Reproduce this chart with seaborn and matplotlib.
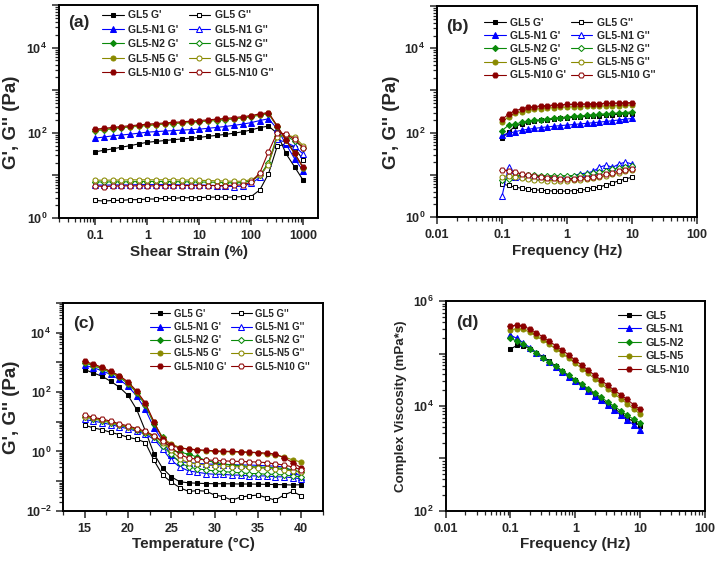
import numpy as np
import pandas as pd
import matplotlib
matplotlib.use('Agg')
import matplotlib.pyplot as plt
import seaborn as sns
from matplotlib.ticker import LogLocator, FuncFormatter, NullFormatter, MultipleLocator

sns.set_style('ticks')
plt.rcParams['font.family'] = ['Liberation Sans', 'DejaVu Sans']
plt.rcParams['font.weight'] = 'bold'
plt.rcParams['axes.labelweight'] = 'bold'
plt.rcParams['mathtext.fontset'] = 'custom'
plt.rcParams['mathtext.rm'] = 'Liberation Sans:bold'
plt.rcParams['mathtext.bf'] = 'Liberation Sans:bold'
plt.rcParams['mathtext.it'] = 'Liberation Sans:bold'

# ---------------- data ----------------
samples = ['GL5', 'GL5-N1', 'GL5-N2', 'GL5-N5', 'GL5-N10']

strain = [0.1, 0.147, 0.215, 0.316, 0.464, 0.681, 1, 1.47, 2.15, 3.16, 4.64, 6.81, 10,
          14.7, 21.5, 31.6, 46.4, 68.1, 100, 147, 215, 316, 464, 681, 1000]
freq = [0.1, 0.126, 0.158, 0.2, 0.251, 0.316, 0.398, 0.501, 0.631, 0.794, 1,
        1.26, 1.58, 2, 2.51, 3.16, 3.98, 5.01, 6.31, 7.94, 10]
temp = [15, 16, 17, 18, 19, 20, 21, 22, 23, 24, 25, 26, 27, 28, 29, 30, 31, 32, 33,
        34, 35, 36, 37, 38, 39, 40]

# (a) strain sweep
a_gp_GL5 = [36, 39, 42, 46, 50, 55, 60, 63, 66, 69, 72, 75, 78, 83, 87, 92, 98, 106, 117, 133, 144, 98, 33, 16, 7.7]
a_gpp_GL5 = [2.6, 2.5, 2.6, 2.6, 2.7, 2.7, 2.8, 2.8, 2.9, 2.9, 3.0, 3.0, 3.0, 3.1, 3.1, 3.1, 3.1, 3.2, 3.2, 4.6, 11, 48, 55, 45, 23]
a_gp_N1 = [75, 80, 85, 89, 93, 98, 104, 107, 110, 113, 116, 119, 122, 128, 134, 141, 150, 160, 174, 195, 214, 125, 55, 25, 12.8]
a_gpp_N1 = [6.0, 5.9, 6.0, 6.0, 6.0, 6.1, 6.1, 6.1, 6.1, 6.1, 6.0, 6.0, 6.0, 5.9, 5.8, 5.6, 5.5, 5.6, 6.5, 9, 20, 70, 60, 48, 32]
a_gp_N2 = [113, 118, 125, 131, 137, 143, 149, 154, 160, 165, 170, 176, 182, 188, 195, 203, 212, 223, 238, 262, 282, 140, 68, 33, 15]
a_gpp_N2 = [7.1, 7.0, 7.1, 7.1, 7.1, 7.2, 7.2, 7.2, 7.2, 7.2, 7.1, 7.1, 7.0, 7.0, 6.9, 6.8, 6.7, 6.8, 7.5, 10, 20, 85, 85, 65, 45]
a_gp_N5 = [116, 121, 128, 134, 140, 146, 152, 157, 163, 168, 174, 180, 186, 193, 200, 208, 217, 229, 245, 268, 290, 142, 68, 33, 15]
a_gpp_N5 = [7.8, 7.7, 7.8, 7.8, 7.9, 7.9, 7.9, 7.9, 7.9, 7.9, 7.8, 7.8, 7.7, 7.6, 7.5, 7.4, 7.3, 7.3, 8.0, 10, 18, 80, 90, 80, 50]
a_gp_N10 = [122, 128, 134, 141, 147, 153, 160, 165, 171, 176, 182, 188, 195, 202, 210, 218, 228, 240, 255, 280, 300, 146, 69, 33, 15.6]
a_gpp_N10 = [5.7, 5.5, 5.6, 5.7, 5.7, 5.7, 5.7, 5.7, 5.8, 5.8, 5.8, 5.8, 5.8, 5.8, 5.8, 5.8, 5.9, 6.0, 7.0, 11.7, 36, 100, 95, 70, 45]

# (b) frequency sweep
b_gp_GL5 = [73, 105, 140, 160, 175, 186, 195, 203, 210, 217, 224, 230, 236, 242, 248, 254, 260, 266, 272, 278, 283]
b_gpp_GL5 = [6.0, 5.6, 5.1, 4.8, 4.6, 4.4, 4.3, 4.2, 4.1, 4.1, 4.1, 4.2, 4.3, 4.5, 4.8, 5.2, 5.7, 6.4, 7.2, 8.0, 8.7]
b_gp_N1 = [87, 96, 105, 114, 120, 126, 132, 137, 142, 147, 151, 156, 161, 166, 172, 178, 184, 192, 200, 208, 217]
b_gpp_N1 = [3.1, 15.5, 9, 9.5, 9.2, 9.0, 8.8, 8.8, 8.8, 8.8, 9.0, 9.5, 10.5, 11, 12, 15, 17, 15, 18, 20, 18]
b_gp_N2 = [112, 150, 160, 174, 185, 195, 204, 212, 220, 228, 236, 243, 250, 257, 264, 271, 278, 285, 292, 300, 310]
b_gpp_N2 = [7.5, 8.0, 9.5, 10, 10, 9.8, 9.6, 9.5, 9.5, 9.5, 9.5, 9.6, 9.8, 10.2, 10.8, 11.5, 12.5, 13.5, 14.5, 15.5, 16]
b_gp_N5 = [180, 235, 285, 315, 340, 360, 373, 383, 392, 399, 405, 410, 414, 418, 422, 426, 430, 434, 438, 443, 448]
b_gpp_N5 = [9.0, 9.5, 8.8, 8.3, 7.9, 7.6, 7.4, 7.3, 7.3, 7.3, 7.3, 7.4, 7.6, 7.9, 8.3, 8.8, 9.5, 10.3, 11.2, 12.2, 13]
b_gp_N10 = [205, 274, 330, 365, 395, 415, 430, 440, 450, 458, 465, 470, 475, 480, 485, 490, 495, 500, 505, 510, 517]
b_gpp_N10 = [13, 12.5, 11.5, 10.5, 9.8, 9.2, 8.8, 8.5, 8.2, 8.0, 8.0, 8.1, 8.3, 8.6, 9.0, 9.6, 10.3, 11.2, 12.2, 13.2, 14]

# (c) temperature sweep
c_gp_GL5 = [570, 440, 340, 230, 146, 78, 26, 5.0, 0.83, 0.27, 0.14, 0.095, 0.088, 0.085, 0.083, 0.082, 0.082, 0.081, 0.08, 0.08, 0.079, 0.078, 0.077, 0.076, 0.074, 0.076]
c_gpp_GL5 = [7.7, 6.2, 5.4, 4.4, 3.7, 3.0, 2.6, 2.0, 0.5, 0.16, 0.093, 0.06, 0.045, 0.048, 0.046, 0.034, 0.03, 0.023, 0.029, 0.032, 0.034, 0.028, 0.023, 0.034, 0.045, 0.032]
c_gp_N1 = [800, 660, 520, 390, 265, 158, 74, 26, 6.2, 2.3, 0.74, 0.45, 0.42, 0.40, 0.38, 0.37, 0.36, 0.36, 0.35, 0.35, 0.34, 0.33, 0.32, 0.30, 0.22, 0.14]
c_gpp_N1 = [12, 10.5, 9.3, 8, 6.8, 5.8, 4.8, 3.8, 2.6, 1.2, 0.5, 0.3, 0.22, 0.2, 0.18, 0.17, 0.17, 0.16, 0.16, 0.15, 0.15, 0.15, 0.14, 0.14, 0.13, 0.12]
c_gp_N2 = [950, 780, 600, 450, 320, 190, 95, 36, 8.5, 3.0, 1.07, 0.96, 0.8, 0.65, 0.5, 0.43, 0.38, 0.35, 0.33, 0.31, 0.3, 0.29, 0.28, 0.27, 0.24, 0.2]
c_gpp_N2 = [14.5, 12.5, 10.8, 9.2, 7.6, 6.4, 5.2, 4.2, 3.0, 1.5, 0.8, 0.42, 0.3, 0.26, 0.24, 0.22, 0.21, 0.2, 0.19, 0.18, 0.18, 0.17, 0.17, 0.16, 0.15, 0.14]
c_gp_N5 = [1000, 830, 640, 470, 340, 205, 100, 40, 9.5, 2.8, 1.8, 1.35, 1.2, 1.1, 1.05, 1.0, 0.98, 0.96, 0.94, 0.92, 0.9, 0.8, 0.74, 0.66, 0.52, 0.44]
c_gpp_N5 = [15, 13, 11.3, 9.6, 8, 6.8, 5.5, 4.5, 3.2, 2.0, 1.1, 0.55, 0.42, 0.38, 0.35, 0.33, 0.32, 0.31, 0.3, 0.29, 0.28, 0.27, 0.26, 0.24, 0.22, 0.2]
c_gp_N10 = [1070, 880, 680, 500, 360, 220, 108, 43, 10, 2.6, 1.6, 1.3, 1.2, 1.15, 1.1, 1.05, 1.02, 1.0, 0.98, 0.95, 0.92, 0.88, 0.82, 0.62, 0.42, 0.28]
c_gpp_N10 = [17, 14, 12.3, 10.5, 8.5, 7.3, 5.9, 4.8, 3.4, 2.2, 1.4, 0.78, 0.6, 0.55, 0.52, 0.5, 0.48, 0.47, 0.46, 0.45, 0.44, 0.42, 0.38, 0.35, 0.3, 0.24]

# (d) complex viscosity (mPa*s)
d_eta_GL5 = [1.22e5, 1.44e5, 1.4e5, 1.25e5, 1.05e5, 8.7e4, 7.1e4, 5.8e4, 4.7e4, 3.8e4, 3.1e4, 2.5e4, 2.05e4, 1.67e4, 1.36e4, 1.1e4, 9.0e3, 7.3e3, 6.0e3, 5.0e3, 4.2e3]
d_eta_N1 = [2.25e5, 1.95e5, 1.6e5, 1.3e5, 1.05e5, 8.5e4, 6.9e4, 5.6e4, 4.5e4, 3.65e4, 2.95e4, 2.4e4, 1.95e4, 1.58e4, 1.28e4, 1.04e4, 8.4e3, 6.8e3, 5.5e3, 4.4e3, 3.5e3]
d_eta_N2 = [1.96e5, 1.73e5, 1.5e5, 1.24e5, 1.02e5, 8.4e4, 6.9e4, 5.7e4, 4.7e4, 3.85e4, 3.2e4, 2.62e4, 2.15e4, 1.78e4, 1.46e4, 1.2e4, 9.9e3, 8.1e3, 6.7e3, 5.6e3, 4.8e3]
d_eta_N5 = [2.85e5, 3.0e5, 2.9e5, 2.55e5, 2.15e5, 1.8e5, 1.5e5, 1.22e5, 1.0e5, 8.1e4, 6.5e4, 5.2e4, 4.2e4, 3.3e4, 2.65e4, 2.1e4, 1.7e4, 1.38e4, 1.1e4, 8.8e3, 7.0e3]
d_eta_N10 = [3.34e5, 3.54e5, 3.34e5, 2.93e5, 2.5e5, 2.09e5, 1.73e5, 1.41e5, 1.17e5, 9.4e4, 7.5e4, 6.0e4, 4.85e4, 3.84e4, 3.13e4, 2.48e4, 2.02e4, 1.64e4, 1.34e4, 1.06e4, 8.6e3]

colors = ['#000000', '#0000ff', '#0a8a0a', '#8a8a00', '#8b0000']
markers = ['s', '^', 'D', 'o', 'H']
msizes = [3.4, 3.9, 3.1, 3.6, 4.1]

a_gp = [a_gp_GL5, a_gp_N1, a_gp_N2, a_gp_N5, a_gp_N10]
a_gpp = [a_gpp_GL5, a_gpp_N1, a_gpp_N2, a_gpp_N5, a_gpp_N10]
b_gp = [b_gp_GL5, b_gp_N1, b_gp_N2, b_gp_N5, b_gp_N10]
b_gpp = [b_gpp_GL5, b_gpp_N1, b_gpp_N2, b_gpp_N5, b_gpp_N10]
c_gp = [c_gp_GL5, c_gp_N1, c_gp_N2, c_gp_N5, c_gp_N10]
c_gpp = [c_gpp_GL5, c_gpp_N1, c_gpp_N2, c_gpp_N5, c_gpp_N10]
d_eta = [d_eta_GL5, d_eta_N1, d_eta_N2, d_eta_N5, d_eta_N10]

# ---------------- figure ----------------
fig = plt.figure(figsize=(7.2, 5.62), dpi=100)
axA = fig.add_axes([0.082, 0.612, 0.360, 0.379])
axB = fig.add_axes([0.607, 0.614, 0.361, 0.375])
axC = fig.add_axes([0.0875, 0.091, 0.361, 0.370])
axD = fig.add_axes([0.619, 0.091, 0.360, 0.373])

TICK_FS = 9
XLABEL_FS = 11
YLABEL_FS = 13.5


def pow_fmt(step):
    def f(v, pos):
        if v <= 0:
            return ''
        e = int(round(np.log10(v)))
        if e % step != 0:
            return ''
        return r'$\mathbf{10^{%d}}$' % e
    return FuncFormatter(f)


def plain_fmt(v, pos):
    return '%g' % v


def style_axis(ax, xlog=True):
    for s in ax.spines.values():
        s.set_linewidth(1.4)
        s.set_color('black')
    ax.tick_params(which='major', direction='out', length=5, width=1.1,
                   labelsize=TICK_FS, top=False, right=False)
    ax.tick_params(which='minor', direction='out', length=3, width=0.9,
                   top=False, right=False)
    ax.set_yscale('log')
    ax.yaxis.set_major_locator(LogLocator(base=10, numticks=20))
    ax.yaxis.set_minor_locator(LogLocator(base=10, subs=np.arange(2, 10), numticks=20))
    ax.yaxis.set_minor_formatter(NullFormatter())
    if xlog:
        ax.set_xscale('log')
        ax.xaxis.set_major_locator(LogLocator(base=10, numticks=20))
        ax.xaxis.set_minor_locator(LogLocator(base=10, subs=np.arange(2, 10), numticks=20))
        ax.xaxis.set_major_formatter(FuncFormatter(plain_fmt))
        ax.xaxis.set_minor_formatter(NullFormatter())


def draw(ax, x, y, i, filled, label):
    c = colors[i]
    sns.lineplot(x=x, y=y, ax=ax, color=c, marker=markers[i], markersize=msizes[i],
                 markerfacecolor=(c if filled else 'white'), markeredgecolor=c,
                 markeredgewidth=0.75, linewidth=0.8, label=label, sort=False,
                 estimator=None, legend=False)


def make_legend(ax, handles_labels, ncol, anchor, fs, spacing):
    hs = [h for h, l in handles_labels]
    ls = [l for h, l in handles_labels]
    leg = ax.legend(hs, ls, ncol=ncol, loc='upper left', bbox_to_anchor=anchor,
                    frameon=False, fontsize=fs, handlelength=2.1,
                    handletextpad=0.4, columnspacing=0.45, labelspacing=spacing,
                    borderaxespad=0.0, borderpad=0.0)
    for t in leg.get_texts():
        t.set_fontweight('bold')


def gg_panel(ax, x, gp, gpp):
    hl_gp, hl_gpp = [], []
    for i, s in enumerate(samples):
        draw(ax, x, gp[i], i, True, s + " G'")
        hl_gp.append((ax.lines[-1], s + " G'"))
        draw(ax, x, gpp[i], i, False, s + " G''")
        hl_gpp.append((ax.lines[-1], s + " G''"))
    return hl_gp + hl_gpp


# (a)
hl = gg_panel(axA, strain, a_gp, a_gpp)
style_axis(axA)
axA.set_xlim(0.02, 1950)
axA.set_ylim(1, 1e5)
axA.yaxis.set_major_formatter(pow_fmt(2))
axA.set_xlabel('Shear Strain (%)', fontsize=XLABEL_FS, labelpad=2)
axA.set_ylabel("G', G'' (Pa)", fontsize=YLABEL_FS, labelpad=2)
axA.yaxis.set_label_coords(-0.15, 0.45)
make_legend(axA, hl, 2, (0.165, 0.975), 7.5, 0.42)
axA.text(0.035, 0.955, '(a)', transform=axA.transAxes, fontsize=12.5,
         fontweight='bold', va='top', ha='left')

# (b)
hl = gg_panel(axB, freq, b_gp, b_gpp)
style_axis(axB)
axB.set_xlim(0.01, 100)
axB.set_ylim(1, 1e5)
axB.yaxis.set_major_formatter(pow_fmt(2))
axB.set_xlabel('Frequency (Hz)', fontsize=XLABEL_FS, labelpad=2)
axB.set_ylabel("G', G'' (Pa)", fontsize=YLABEL_FS, labelpad=2)
axB.yaxis.set_label_coords(-0.142, 0.45)
make_legend(axB, hl, 2, (0.18, 0.945), 7.5, 0.3)
axB.text(0.035, 0.94, '(b)', transform=axB.transAxes, fontsize=12.5,
         fontweight='bold', va='top', ha='left')

# (c)
hl = gg_panel(axC, temp, c_gp, c_gpp)
style_axis(axC, xlog=False)
axC.set_xlim(12.5, 42.5)
axC.set_ylim(1e-2, 1e5)
axC.xaxis.set_major_locator(MultipleLocator(5))
axC.xaxis.set_minor_locator(MultipleLocator(2.5))
axC.yaxis.set_major_formatter(pow_fmt(2))
axC.set_xlabel('Temperature (°C)', fontsize=XLABEL_FS, labelpad=2)
axC.set_ylabel("G', G'' (Pa)", fontsize=YLABEL_FS, labelpad=2)
axC.yaxis.set_label_coords(-0.165, 0.5)
make_legend(axC, hl, 2, (0.335, 0.972), 7.0, 0.33)
axC.text(0.04, 0.935, '(c)', transform=axC.transAxes, fontsize=12.5,
         fontweight='bold', va='top', ha='left')

# (d)
hl = []
for i, s in enumerate(samples):
    draw(axD, freq, d_eta[i], i, True, s)
    hl.append((axD.lines[-1], s))
style_axis(axD)
axD.set_xlim(0.01, 100)
axD.set_ylim(1e2, 1e6)
axD.yaxis.set_major_formatter(pow_fmt(2))
axD.set_xlabel('Frequency (Hz)', fontsize=XLABEL_FS, labelpad=2)
axD.set_ylabel('Complex Viscosity (mPa*s)', fontsize=9.6, labelpad=4)
make_legend(axD, hl, 1, (0.665, 0.955), 7.8, 0.33)
axD.text(0.04, 0.935, '(d)', transform=axD.transAxes, fontsize=12.5,
         fontweight='bold', va='top', ha='left')

for ax in (axA, axB, axC, axD):
    for lab in ax.get_xticklabels() + ax.get_yticklabels():
        lab.set_fontweight('bold')

fig.savefig('out.png', dpi=100, facecolor='white')
